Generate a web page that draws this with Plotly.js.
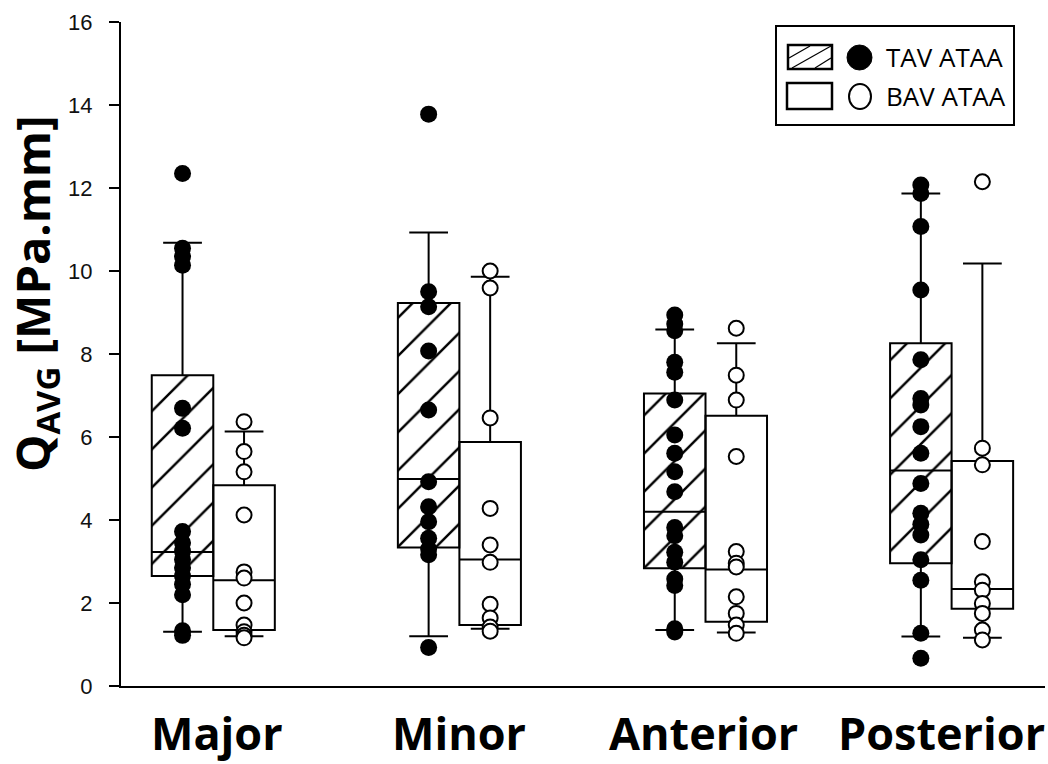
<!DOCTYPE html>
<html>
<head>
<meta charset="utf-8">
<script src="https://cdn.plot.ly/plotly-3.0.1.min.js"></script>
<style>html,body{margin:0;padding:0;background:#fff;}#chart{width:1048px;height:764px;}</style>
</head>
<body>
<div id="chart"></div>
<script>
// ---- data ----
var categories = ['Major', 'Minor', 'Anterior', 'Posterior'];
var seriesNames = ['TAV ATAA', 'BAV ATAA'];

// box statistics (MPa.mm)
var tavQ1 = [2.65, 3.34, 2.84, 2.96];
var tavMedian = [3.23, 4.99, 4.20, 5.19];
var tavQ3 = [7.49, 9.23, 7.05, 8.26];
var tavLower = [1.31, 1.20, 1.35, 1.19];
var tavUpper = [10.68, 10.93, 8.59, 11.87];

var bavQ1 = [1.35, 1.47, 1.55, 1.86];
var bavMedian = [2.55, 3.05, 2.81, 2.34];
var bavQ3 = [4.84, 5.88, 6.51, 5.42];
var bavLower = [1.20, 1.38, 1.29, 1.16];
var bavUpper = [6.13, 9.86, 8.26, 10.18];

// individual observations
var tavMajor = [12.35, 10.55, 10.35, 10.14, 6.69, 6.21, 3.72, 3.45, 3.25, 3.05, 2.85, 2.65, 2.45, 2.2, 1.33, 1.22];
var tavMinor = [13.78, 9.5, 9.14, 8.07, 6.65, 4.92, 4.32, 3.96, 3.56, 3.3, 3.16, 0.93];
var tavAnterior = [8.94, 8.72, 8.56, 7.8, 7.56, 6.89, 6.05, 5.61, 5.16, 4.68, 3.82, 3.62, 3.22, 2.98, 2.58, 2.42, 1.38, 1.3];
var tavPosterior = [12.07, 11.87, 11.07, 9.54, 7.86, 6.93, 6.77, 6.25, 5.61, 4.88, 4.16, 3.9, 3.64, 3.04, 2.55, 1.27, 0.67];

var bavMajor = [6.37, 5.65, 5.16, 4.12, 2.75, 2.6, 2.0, 1.47, 1.31, 1.22, 1.16];
var bavMinor = [10.0, 9.59, 6.46, 4.28, 3.4, 2.98, 1.97, 1.64, 1.42, 1.32];
var bavAnterior = [8.62, 7.49, 6.89, 5.53, 3.24, 2.96, 2.87, 2.15, 1.75, 1.47, 1.27];
var bavPosterior = [12.15, 5.73, 5.33, 3.48, 2.51, 2.31, 1.99, 1.75, 1.35, 1.11];

var yTicks = [0, 2, 4, 6, 8, 10, 12, 14, 16];

// ---- build ----
var tavPoints = [tavMajor, tavMinor, tavAnterior, tavPosterior];
var bavPoints = [bavMajor, bavMinor, bavAnterior, bavPosterior];
var pos = categories.map(function (c, i) { return i + 1; });
var off = 0.125, bw = 0.25;
var tavX = pos.map(function (p) { return p - off; });
var bavX = pos.map(function (p) { return p + off; });

function flatX(xs, groups) {
  var out = [];
  groups.forEach(function (g, i) { g.forEach(function () { out.push(xs[i]); }); });
  return out;
}
function flatY(groups) {
  var out = [];
  groups.forEach(function (g) { g.forEach(function (v) { out.push(v); }); });
  return out;
}

var traces = [];
// hatched TAV box fill
traces.push({
  type: 'bar', x: tavX, base: tavQ1,
  y: tavQ3.map(function (v, i) { return v - tavQ1[i]; }),
  width: bw,
  marker: { color: 'white', line: { width: 0 },
    pattern: { shape: '/', fgcolor: 'black', bgcolor: 'white', size: 27, solidity: 0.09 } },
  hoverinfo: 'skip', showlegend: false
});
traces.push({
  type: 'box', name: seriesNames[0], x: tavX,
  q1: tavQ1, median: tavMedian, q3: tavQ3, lowerfence: tavLower, upperfence: tavUpper,
  width: bw, whiskerwidth: 0.63, boxpoints: false,
  fillcolor: 'rgba(0,0,0,0)', line: { color: 'black', width: 2 }, showlegend: false
});
traces.push({
  type: 'box', name: seriesNames[1], x: bavX,
  q1: bavQ1, median: bavMedian, q3: bavQ3, lowerfence: bavLower, upperfence: bavUpper,
  width: bw, whiskerwidth: 0.63, boxpoints: false,
  fillcolor: 'rgba(0,0,0,0)', line: { color: 'black', width: 2 }, showlegend: false
});
traces.push({
  type: 'scatter', mode: 'markers', name: seriesNames[0],
  x: flatX(tavX, tavPoints), y: flatY(tavPoints),
  marker: { size: 17, color: 'black', line: { width: 0 } },
  cliponaxis: false, showlegend: false
});
traces.push({
  type: 'scatter', mode: 'markers', name: seriesNames[1],
  x: flatX(bavX, bavPoints), y: flatY(bavPoints),
  marker: { size: 15, color: 'white', line: { width: 2, color: 'black' } },
  cliponaxis: false, showlegend: false
});

// plot area geometry (for legend decoration placement)
var L = 121, R = 3, T = 22, B = 78, W = 1048, H = 764;
function px(x) { return (x - L) / (W - L - R); }
function py(y) { return (H - B - y) / (H - T - B); }

var shapes = [
  { type: 'rect', xref: 'paper', yref: 'paper', x0: px(776), x1: px(1014), y0: py(26), y1: py(125), line: { color: 'black', width: 2 }, fillcolor: 'white', layer: 'above' },
  { type: 'rect', xref: 'paper', yref: 'paper', x0: px(788), x1: px(832), y0: py(45), y1: py(69), line: { color: 'black', width: 2.5 }, layer: 'above' },
  { type: 'line', xref: 'paper', yref: 'paper', x0: px(789), y0: py(58), x1: px(810), y1: py(46), line: { color: 'black', width: 1.2 }, layer: 'above' },
  { type: 'line', xref: 'paper', yref: 'paper', x0: px(792), y0: py(68), x1: px(831), y1: py(46), line: { color: 'black', width: 1.2 }, layer: 'above' },
  { type: 'line', xref: 'paper', yref: 'paper', x0: px(815), y0: py(68), x1: px(831), y1: py(58), line: { color: 'black', width: 1.2 }, layer: 'above' },
  { type: 'rect', xref: 'paper', yref: 'paper', x0: px(787), x1: px(832), y0: py(83), y1: py(109), line: { color: 'black', width: 2.5 }, layer: 'above' },
  { type: 'circle', xref: 'paper', yref: 'paper', x0: px(847), x1: px(872), y0: py(45), y1: py(70), line: { color: 'black', width: 1 }, fillcolor: 'black', layer: 'above' },
  { type: 'circle', xref: 'paper', yref: 'paper', x0: px(849), x1: px(871), y0: py(84), y1: py(109), line: { color: 'black', width: 2 }, fillcolor: 'white', layer: 'above' }
];

var labelShift = [4, 0, -2, -10];
var annotations = categories.map(function (c, i) {
  return { text: c, x: pos[i], xref: 'x', y: 0, yref: 'paper', yanchor: 'middle', xanchor: 'center',
    yshift: -46, xshift: labelShift[i], showarrow: false,
    font: { family: 'Open Sans, sans-serif', size: 45, color: 'black', weight: 'bold' } };
});
annotations.push({ text: '<b>Q<sub>AVG</sub> [MPa.mm]</b>', xref: 'paper', yref: 'paper', x: px(35), y: py(294),
  textangle: -90, showarrow: false, xanchor: 'center', yanchor: 'middle',
  font: { family: 'Open Sans, sans-serif', size: 47, color: 'black' } });
annotations.push({ text: seriesNames[0], xref: 'paper', yref: 'paper', x: px(884), y: py(57), xanchor: 'left', yanchor: 'middle', showarrow: false,
  font: { family: 'Open Sans, sans-serif', size: 26, color: 'black' } });
annotations.push({ text: seriesNames[1], xref: 'paper', yref: 'paper', x: px(884), y: py(96), xanchor: 'left', yanchor: 'middle', showarrow: false,
  font: { family: 'Open Sans, sans-serif', size: 26, color: 'black' } });

var layout = {
  width: W, height: H,
  margin: { l: L, r: R, t: T, b: B, pad: 0 },
  paper_bgcolor: 'white', plot_bgcolor: 'white',
  barmode: 'overlay', boxmode: 'overlay',
  showlegend: false, hovermode: false,
  xaxis: { range: [0.625, 4.3795], showline: true, linecolor: 'black', linewidth: 2,
    showticklabels: false, ticks: '', showgrid: false, zeroline: false },
  yaxis: { range: [0, 16], tickvals: yTicks, ticktext: yTicks.map(String), ticks: 'outside', ticklen: 10, tickwidth: 1.5,
    tickcolor: 'black', showline: true, linecolor: 'black', linewidth: 2, showgrid: false, zeroline: false,
    ticklabelstandoff: 12,
    tickfont: { family: 'Liberation Sans, Arial, sans-serif', size: 22, color: '#111' } },
  shapes: shapes,
  annotations: annotations
};

Plotly.newPlot('chart', traces, layout, { staticPlot: true, displayModeBar: false });
</script>
</body>
</html>
